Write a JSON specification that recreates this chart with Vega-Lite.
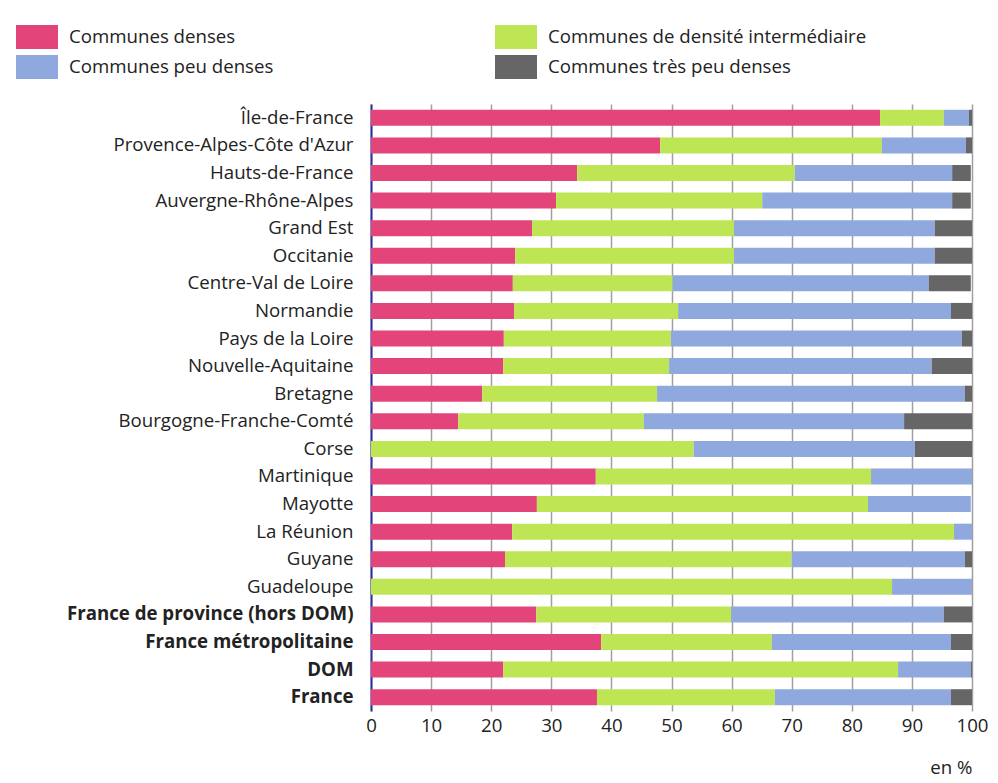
{
  "$schema": "https://vega.github.io/schema/vega-lite/v6.json",
  "width": 601,
  "height": 607,
  "autosize": {"type": "none"},
  "padding": {"left": 371, "top": 104, "right": 26, "bottom": 72},
  "background": "white",
  "config": {
    "font": "Open Sans",
    "view": {"stroke": null},
    "axis": {"labelFont": "Open Sans", "titleFont": "Open Sans", "labelColor": "#222222", "titleColor": "#222222"},
    "legend": {"labelFont": "Open Sans"}
  },
  "data": {
    "values": [
      {"region": "Île-de-France", "Communes denses": 84.7, "Communes de densité intermédiaire": 10.6, "Communes peu denses": 4.2, "Communes très peu denses": 0.5},
      {"region": "Provence-Alpes-Côte d'Azur", "Communes denses": 48.1, "Communes de densité intermédiaire": 36.9, "Communes peu denses": 14.0, "Communes très peu denses": 1.0},
      {"region": "Hauts-de-France", "Communes denses": 34.3, "Communes de densité intermédiaire": 36.2, "Communes peu denses": 26.2, "Communes très peu denses": 3.1},
      {"region": "Auvergne-Rhône-Alpes", "Communes denses": 30.8, "Communes de densité intermédiaire": 34.3, "Communes peu denses": 31.6, "Communes très peu denses": 3.1},
      {"region": "Grand Est", "Communes denses": 26.8, "Communes de densité intermédiaire": 33.6, "Communes peu denses": 33.4, "Communes très peu denses": 6.2},
      {"region": "Occitanie", "Communes denses": 24.0, "Communes de densité intermédiaire": 36.4, "Communes peu denses": 33.4, "Communes très peu denses": 6.2},
      {"region": "Centre-Val de Loire", "Communes denses": 23.6, "Communes de densité intermédiaire": 26.6, "Communes peu denses": 42.6, "Communes très peu denses": 7.0},
      {"region": "Normandie", "Communes denses": 23.8, "Communes de densité intermédiaire": 27.3, "Communes peu denses": 45.4, "Communes très peu denses": 3.5},
      {"region": "Pays de la Loire", "Communes denses": 22.1, "Communes de densité intermédiaire": 27.8, "Communes peu denses": 48.4, "Communes très peu denses": 1.7},
      {"region": "Nouvelle-Aquitaine", "Communes denses": 22.0, "Communes de densité intermédiaire": 27.6, "Communes peu denses": 43.7, "Communes très peu denses": 6.7},
      {"region": "Bretagne", "Communes denses": 18.5, "Communes de densité intermédiaire": 29.1, "Communes peu denses": 51.2, "Communes très peu denses": 1.2},
      {"region": "Bourgogne-Franche-Comté", "Communes denses": 14.5, "Communes de densité intermédiaire": 30.9, "Communes peu denses": 43.3, "Communes très peu denses": 11.3},
      {"region": "Corse", "Communes denses": 0, "Communes de densité intermédiaire": 53.7, "Communes peu denses": 36.8, "Communes très peu denses": 9.5},
      {"region": "Martinique", "Communes denses": 37.4, "Communes de densité intermédiaire": 45.8, "Communes peu denses": 16.8, "Communes très peu denses": 0},
      {"region": "Mayotte", "Communes denses": 27.6, "Communes de densité intermédiaire": 55.1, "Communes peu denses": 17.1, "Communes très peu denses": 0},
      {"region": "La Réunion", "Communes denses": 23.5, "Communes de densité intermédiaire": 73.5, "Communes peu denses": 3.0, "Communes très peu denses": 0},
      {"region": "Guyane", "Communes denses": 22.3, "Communes de densité intermédiaire": 47.7, "Communes peu denses": 28.8, "Communes très peu denses": 1.2},
      {"region": "Guadeloupe", "Communes denses": 0, "Communes de densité intermédiaire": 86.7, "Communes peu denses": 13.3, "Communes très peu denses": 0},
      {"region": "France de province (hors DOM)", "Communes denses": 27.5, "Communes de densité intermédiaire": 32.4, "Communes peu denses": 35.4, "Communes très peu denses": 4.7},
      {"region": "France métropolitaine", "Communes denses": 38.3, "Communes de densité intermédiaire": 28.4, "Communes peu denses": 29.8, "Communes très peu denses": 3.5},
      {"region": "DOM", "Communes denses": 22.0, "Communes de densité intermédiaire": 65.7, "Communes peu denses": 12.1, "Communes très peu denses": 0.2},
      {"region": "France", "Communes denses": 37.6, "Communes de densité intermédiaire": 29.6, "Communes peu denses": 29.3, "Communes très peu denses": 3.5}
    ]
  },
  "transform": [
    {"fold": ["Communes denses", "Communes de densité intermédiaire", "Communes peu denses", "Communes très peu denses"], "as": ["type", "value"]},
    {"lookup": "type", "from": {"data": {"values": [
      {"type": "Communes denses", "rank": 1},
      {"type": "Communes de densité intermédiaire", "rank": 2},
      {"type": "Communes peu denses", "rank": 3},
      {"type": "Communes très peu denses", "rank": 4}
    ]}, "key": "type", "fields": ["rank"]}}
  ],
  "mark": {"type": "bar"},
  "encoding": {
    "y": {
      "field": "region",
      "type": "nominal",
      "sort": ["Île-de-France", "Provence-Alpes-Côte d'Azur", "Hauts-de-France", "Auvergne-Rhône-Alpes", "Grand Est", "Occitanie", "Centre-Val de Loire", "Normandie", "Pays de la Loire", "Nouvelle-Aquitaine", "Bretagne", "Bourgogne-Franche-Comté", "Corse", "Martinique", "Mayotte", "La Réunion", "Guyane", "Guadeloupe", "France de province (hors DOM)", "France métropolitaine", "DOM", "France"],
      "scale": {"paddingInner": 0.42, "paddingOuter": 0.21},
      "axis": {
        "title": null,
        "ticks": false,
        "labelPadding": 18,
        "labelFontSize": 18.67,
        "labelLimit": 400,
        "labelFontWeight": {"condition": {"test": "indexof(['France de province (hors DOM)','France métropolitaine','DOM','France'], datum.value) >= 0", "value": "bold"}, "value": "normal"},
        "domain": true,
        "domainColor": "#2e2e9e",
        "domainWidth": 2,
        "grid": false
      }
    },
    "x": {
      "field": "value",
      "type": "quantitative",
      "stack": "zero",
      "scale": {"domain": [0, 100], "nice": false},
      "axis": {
        "title": "en %",
        "titleFontSize": 18.67,
        "titleFontWeight": "normal",
        "titleAnchor": "end",
        "titleAlign": "right",
        "titlePadding": 24,
        "values": [0, 10, 20, 30, 40, 50, 60, 70, 80, 90, 100],
        "ticks": false,
        "labelFlush": false,
        "labelPadding": 5,
        "labelFontSize": 18.67,
        "domain": false,
        "grid": true,
        "gridColor": "#a0a0a0",
        "gridWidth": 1.5
      }
    },
    "color": {
      "field": "type",
      "type": "nominal",
      "sort": ["Communes denses", "Communes de densité intermédiaire", "Communes peu denses", "Communes très peu denses"],
      "scale": {
        "domain": ["Communes denses", "Communes de densité intermédiaire", "Communes peu denses", "Communes très peu denses"],
        "range": ["#e3457b", "#bee654", "#8fa8de", "#666666"]
      },
      "legend": {
        "title": null,
        "orient": "none",
        "legendX": -346,
        "legendY": -79,
        "direction": "horizontal",
        "columns": 2,
        "gridAlign": "all",
        "columnPadding": 107,
        "rowPadding": 6,
        "symbolType": "M-1.75,-1H1.75V1H-1.75Z",
        "symbolSize": 576,
        "symbolStrokeWidth": 0,
        "symbolOpacity": 1,
        "labelFontSize": 18.67,
        "labelColor": "#222222",
        "labelOffset": 20,
        "labelLimit": 400
      }
    },
    "order": {"field": "rank", "type": "quantitative", "sort": "ascending"}
  }
}
